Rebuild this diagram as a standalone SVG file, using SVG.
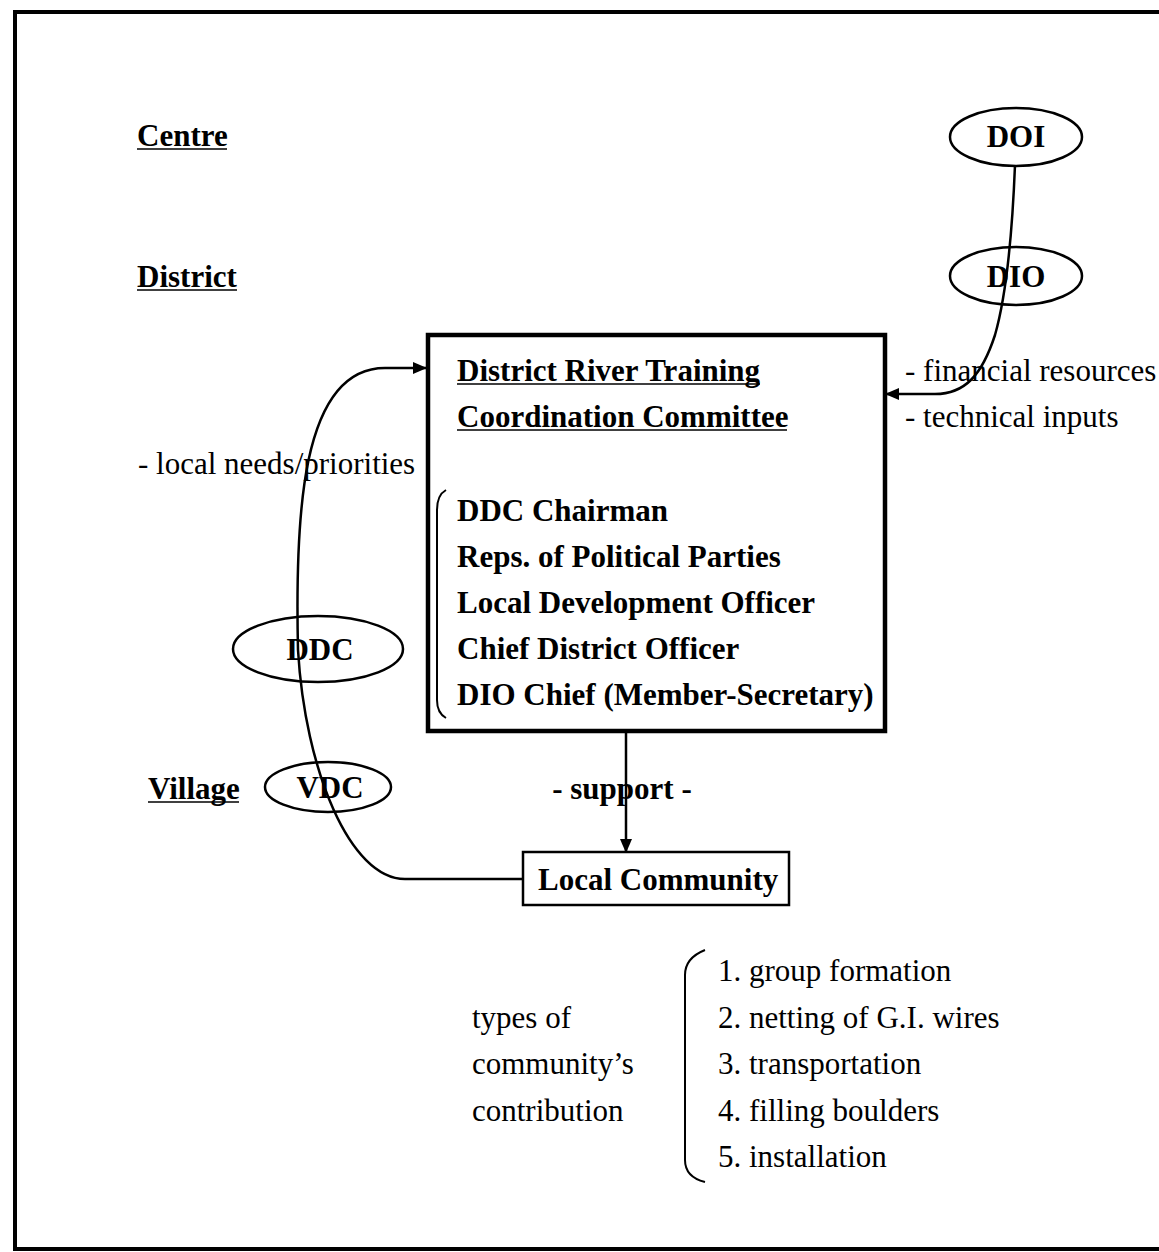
<svg xmlns="http://www.w3.org/2000/svg" width="1159" height="1252" viewBox="0 0 1159 1252">
<style>
text{font-family:"Liberation Serif","Times New Roman",serif;font-size:31px;fill:#000}
.b{font-weight:bold}
.ul{stroke:#000;stroke-width:1.6}
.ell{fill:#fff;stroke:#000;stroke-width:2.5}
.conn{fill:none;stroke:#000;stroke-width:2.5}
</style>
<defs>
<marker id="ah" markerWidth="14" markerHeight="12" refX="13" refY="6" orient="auto" markerUnits="userSpaceOnUse">
<path d="M0,0 L14,6 L0,12 Z" fill="#000"/>
</marker>
</defs>
<rect x="0" y="0" width="1159" height="1252" fill="#fff"/>
<rect x="15" y="12" width="1170" height="1237" fill="none" stroke="#000" stroke-width="4"/>

<g id="level-labels">
<text class="b" x="137" y="146">Centre</text>
<line class="ul" x1="137" y1="149" x2="227" y2="149"/>
<text class="b" x="137" y="287">District</text>
<line class="ul" x1="137" y1="290" x2="237" y2="290"/>
<text class="b" x="148" y="799">Village</text>
<line class="ul" x1="148" y1="802" x2="239" y2="802"/>
</g>

<g id="DOI">
<ellipse class="ell" cx="1016" cy="137" rx="66" ry="29"/>
<text class="b" x="1016" y="147" text-anchor="middle">DOI</text>
</g>
<g id="DIO">
<ellipse class="ell" cx="1016" cy="276" rx="66" ry="29"/>
<text class="b" x="1016" y="287" text-anchor="middle">DIO</text>
</g>
<g id="DDC">
<ellipse class="ell" cx="318" cy="649" rx="85" ry="33"/>
<text class="b" x="320" y="660" text-anchor="middle">DDC</text>
</g>
<g id="VDC">
<ellipse class="ell" cx="328" cy="787" rx="63" ry="25"/>
<text class="b" x="330" y="798" text-anchor="middle">VDC</text>
</g>

<g id="committee">
<rect x="428" y="335" width="457" height="396" fill="#fff" stroke="#000" stroke-width="4.5"/>
<text class="b" x="457" y="381">District River Training</text>
<line class="ul" x1="457" y1="384" x2="760" y2="384"/>
<text class="b" x="457" y="427">Coordination Committee</text>
<line class="ul" x1="457" y1="430" x2="787" y2="430"/>
<path d="M446,490 Q437,495 437,510 L437,700 Q437,713 446,718" fill="none" stroke="#000" stroke-width="2"/>
<text class="b" x="457" y="521">DDC Chairman</text>
<text class="b" x="457" y="567">Reps. of Political Parties</text>
<text class="b" x="457" y="613">Local Development Officer</text>
<text class="b" x="457" y="659">Chief District Officer</text>
<text class="b" x="457" y="705">DIO Chief (Member-Secretary)</text>
</g>

<g id="local-community">
<rect x="523" y="852" width="266" height="53" fill="#fff" stroke="#000" stroke-width="2.5"/>
<text class="b" x="538" y="890">Local Community</text>
</g>

<g id="connectors">
<path class="conn" d="M1015,165 C1012,240 1005,300 995,335 C982,375 965,394 935,394 L886,394" marker-end="url(#ah)"/>
<path class="conn" d="M523,879 L405,879 C350,879 305,770 298,650 C295,520 300,368 385,368 L426,368" marker-end="url(#ah)"/>
<path class="conn" d="M626,733 L626,852" stroke-width="4" marker-end="url(#ah)"/>
</g>

<g id="labels">
<text x="905" y="381">- financial resources</text>
<text x="905" y="427">- technical inputs</text>
<text x="138" y="474">- local needs/priorities</text>
<text class="b" x="622" y="799" text-anchor="middle">- support -</text>
</g>

<g id="contribution">
<text x="472" y="1028">types of</text>
<text x="472" y="1074">community’s</text>
<text x="472" y="1121">contribution</text>
<path d="M705,950 Q685,958 685,975 L685,1160 Q685,1177 705,1182" fill="none" stroke="#000" stroke-width="2"/>
<text x="718" y="981">1. group formation</text>
<text x="718" y="1028">2. netting of G.I. wires</text>
<text x="718" y="1074">3. transportation</text>
<text x="718" y="1121">4. filling boulders</text>
<text x="718" y="1167">5. installation</text>
</g>
</svg>
